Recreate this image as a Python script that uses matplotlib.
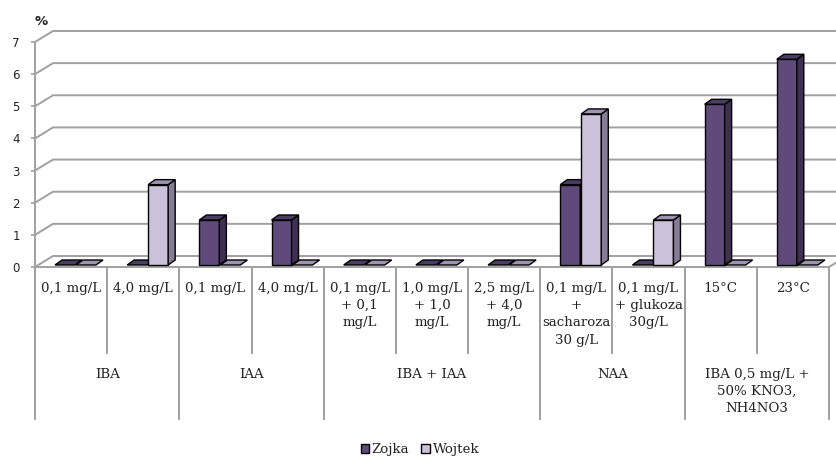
import matplotlib
matplotlib.use('Agg')
import matplotlib.pyplot as plt
from matplotlib.patches import Polygon, Patch
from matplotlib.font_manager import FontProperties

# rooting percentage per treatment
categories = ['0,1 mg/L', '4,0 mg/L', '0,1 mg/L', '4,0 mg/L',
              '0,1 mg/L\n+ 0,1\nmg/L', '1,0 mg/L\n+ 1,0\nmg/L',
              '2,5 mg/L\n+ 4,0\nmg/L', '0,1 mg/L\n+\nsacharoza\n30 g/L',
              '0,1 mg/L\n+ glukoza\n30g/L', '15°C', '23°C']
groups = ['IBA', 'IAA', 'IBA + IAA', 'NAA',
          'IBA 0,5 mg/L +\n50% KNO3,\nNH4NO3']
group_sizes = [2, 2, 3, 2, 2]
zojka = [0, 0, 1.4, 1.4, 0, 0, 0, 2.5, 0, 5.0, 6.4]
wojtek = [0, 2.5, 0, 0, 0, 0, 0, 4.7, 1.4, 0, 0]
series = ['Zojka', 'Wojtek']

# face colours: front, side, top
colors = {
    'Zojka': ('#604A7B', '#3F3052', '#4C3B63'),
    'Wojtek': ('#CCC1DA', '#877C96', '#A093B1'),
}
grid_c = '#A0A0A0'

W, H = 837, 457
fig = plt.figure(figsize=(W / 100, H / 100), dpi=100)
ax = fig.add_axes([35 / W, 190 / H, 794 / W, 225 / H])
n = len(categories)
ax.set_xlim(0, n)
ax.set_ylim(0, 7)
xs = 794 / n      # px per category
ys = 225 / 7      # px per unit

# wall depth offset in data units
wdx, wdy = 18 / xs, 11 / ys
for v in range(8):
    ax.plot([0, wdx, n + 2 * wdx], [v, v + wdy, v + wdy], color=grid_c,
            lw=1.4, clip_on=False, zorder=1)
ax.plot([0, n, n + wdx], [0, 0, wdy], color=grid_c, lw=1.4,
        clip_on=False, zorder=1)

for s in ['top', 'right', 'bottom']:
    ax.spines[s].set_visible(False)
ax.spines['left'].set_color(grid_c)
ax.spines['left'].set_linewidth(1.4)
ax.set_xticks([])
ax.set_yticks(range(8))
ax.tick_params(axis='y', length=3, color=grid_c, width=1.2, pad=8,
               labelsize=8.5, labelcolor='#222222')
ax.patch.set_visible(False)

# bar geometry
bw = 20 / xs
bdx, bdy = 7 / xs, 5 / ys
base = 2 / ys
offsets = {'Zojka': 20 / xs, 'Wojtek': 41 / xs}


def draw_bar(x0, h, name):
    front, side, top = colors[name]
    y0 = base
    y1 = base + h
    kw = dict(edgecolor='black', lw=1.0, joinstyle='miter', clip_on=False,
              zorder=3)
    if h > 0:
        ax.add_patch(Polygon([(x0, y0), (x0 + bw, y0), (x0 + bw, y1),
                              (x0, y1)], facecolor=front, **kw))
        ax.add_patch(Polygon([(x0 + bw, y0), (x0 + bw + bdx, y0 + bdy),
                              (x0 + bw + bdx, y1 + bdy), (x0 + bw, y1)],
                             facecolor=side, **kw))
    ax.add_patch(Polygon([(x0, y1), (x0 + bw, y1), (x0 + bw + bdx, y1 + bdy),
                          (x0 + bdx, y1 + bdy)], facecolor=top, **kw))


for i in range(n):
    draw_bar(i + offsets['Zojka'], zojka[i], 'Zojka')
    draw_bar(i + offsets['Wojtek'], wojtek[i], 'Wojtek')

ax.text(0.0, 7.65, '%', fontsize=9.5, fontweight='bold', ha='left',
        va='center', color='#222222')

# category axis: labels and divider lines
lab_kw = dict(family='DejaVu Serif', fontsize=9.6, color='#222222',
              ha='center', va='top', linespacing=1.42, clip_on=False)
short_y = -(353 - 267) / ys
long_y = -(419 - 267) / ys
for i in range(n + 1):
    ax.plot([i, i], [0, short_y], color=grid_c, lw=1.4, clip_on=False)
for i, lab in enumerate(categories):
    ax.text(i + 0.5, -(282 - 267) / ys, lab, **lab_kw)

edge = 0
ax.plot([0, 0], [0, long_y], color=grid_c, lw=1.4, clip_on=False)
for g, size in zip(groups, group_sizes):
    ax.text(edge + size / 2, -(368 - 267) / ys, g, **lab_kw)
    edge += size
    ax.plot([edge, edge], [0, long_y], color=grid_c, lw=1.4, clip_on=False)

handles = [Patch(facecolor=colors[s][0], edgecolor='black', lw=1.0)
           for s in series]
leg_font = FontProperties(family='DejaVu Serif', size=9.6)
leg = fig.legend(handles, series, loc='center',
                 bbox_to_anchor=(420 / W, 7 / H), ncol=2, frameon=False,
                 handlelength=0.65, handleheight=0.65, handletextpad=0.2,
                 columnspacing=0.9, prop=leg_font)
for t in leg.get_texts():
    t.set_color('#222222')

fig.savefig('out.png', dpi=100)
